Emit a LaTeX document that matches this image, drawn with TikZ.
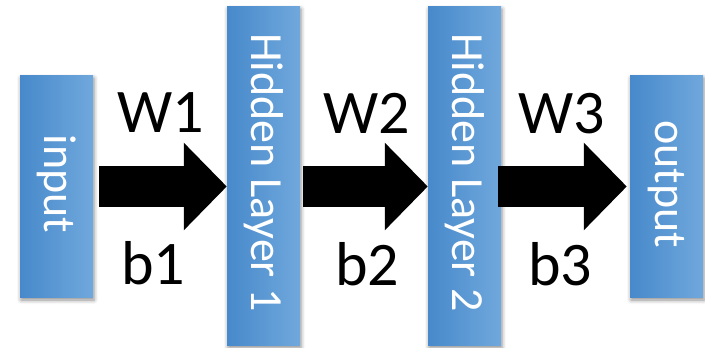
\documentclass[tikz,border=0pt]{standalone}
\usepackage{fontspec}
\setmainfont{Carlito}
\usetikzlibrary{arrows.meta,shadows.blur}
\definecolor{bleft}{HTML}{4789CB}
\definecolor{bright}{HTML}{70A8DC}
\tikzset{
  layerbox/.style={minimum width=73pt,minimum height=#1,inner sep=0pt,
    left color=bleft,right color=bright,draw=none,
    blur shadow={shadow xshift=1pt,shadow yshift=-3pt,shadow blur radius=4pt,shadow opacity=45}},
  layertext/.style={rotate=-90,text=white,font=\fontsize{46}{50}\selectfont,inner sep=0pt},
  wlabel/.style={font=\fontsize{62}{66}\selectfont,anchor=base,inner sep=0pt},
  bigarrow/.style={line width=41pt,-{Triangle[length=43pt,width=85pt]}}
}
\begin{document}
\begin{tikzpicture}[x=1pt,y=-1pt]
\useasboundingbox (0,0) rectangle (705,348);
\node[layerbox=222pt] (in) at (56.5,186) {};
\node[layerbox=339pt] (h1) at (263.5,175.5) {};
\node[layerbox=339pt] (h2) at (464.5,175.5) {};
\node[layerbox=222pt] (out) at (666.5,186) {};
\node[layertext,xshift=-2pt] (tin) at (in.center) {input};
\node[layertext,xshift=-3pt] (th1) at (h1.center) {Hidden Layer 1};
\node[layertext,xshift=-3pt] (th2) at (h2.center) {Hidden Layer 2};
\node[layertext,xshift=-2pt] (tout) at (out.center) {output};
\coordinate (a1s) at ([xshift=6pt]in.east |- 0,186.5);
\coordinate (a1e) at (h1.west |- 0,186.5);
\coordinate (a2s) at ([xshift=3pt]h1.east |- 0,186.5);
\coordinate (a2e) at (h2.west |- 0,186.5);
\coordinate (a3s) at ([xshift=-3pt]h2.east |- 0,186.5);
\coordinate (a3e) at ([xshift=-3pt]out.west |- 0,186.5);
\draw[bigarrow] (a1s) -- (a1e);
\draw[bigarrow] (a2s) -- (a2e);
\draw[bigarrow] (a3s) -- (a3e);
\node[wlabel] (w1) at (161,132) {W1};
\node[wlabel] (b1) at (153,284) {b1};
\node[wlabel] (w2) at (367,133) {W2};
\node[wlabel] (b2) at (367,285) {b2};
\node[wlabel] (w3) at (562,133) {W3};
\node[wlabel] (b3) at (560,285) {b3};
\end{tikzpicture}
\end{document}
